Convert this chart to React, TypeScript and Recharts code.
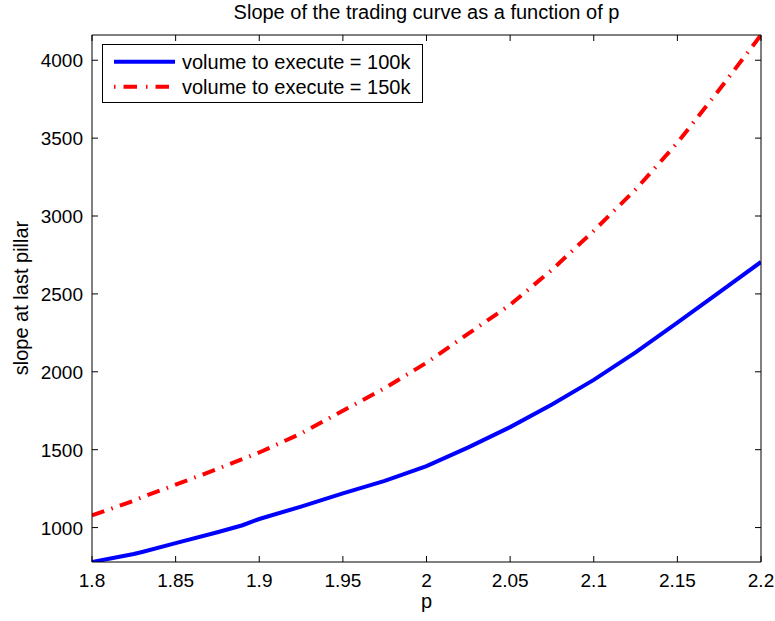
import React from 'react';
import { LineChart, Line, XAxis, YAxis, Legend, Label } from 'recharts';

const pValues = [1.8, 1.825, 1.83, 1.85, 1.875, 1.89, 1.9, 1.925, 1.95, 1.975, 2, 2.025, 2.05, 2.075, 2.1, 2.125, 2.15, 2.175, 2.2];
const slope100k = [779, 830, 843, 900, 970, 1015, 1055, 1135, 1220, 1300, 1395, 1515, 1645, 1790, 1948, 2125, 2315, 2510, 2705];
const slope150k = [1078, 1172, 1195, 1275, 1376, 1440, 1482, 1604, 1750, 1895, 2058, 2245, 2430, 2655, 2905, 3170, 3470, 3810, 4162];

const xTicks = [1.8, 1.85, 1.9, 1.95, 2, 2.05, 2.1, 2.15, 2.2];
const yTicks = [1000, 1500, 2000, 2500, 3000, 3500, 4000];
const seriesNames = ['volume to execute = 100k', 'volume to execute = 150k'];
const titleText = 'Slope of the trading curve as a function of p';
const xLabel = 'p';
const yLabel = 'slope at last pillar';

const data = pValues.map((p, i) => ({ p, v100: slope100k[i], v150: slope150k[i] }));

const FONT = '"Liberation Sans", Arial, Helvetica, sans-serif';
const TICK_FS = 19;
const TEXT_FS = 20;
const RED_DASH = '13 7.5 1.5 7.5';

const BottomTick = (props: any) => {
  const { x, y, payload } = props;
  return (
    <g>
      <line x1={x} x2={x} y1={y} y2={y - 6} stroke="#000" strokeWidth={1} />
      <text x={x} y={y + 25} textAnchor="middle" fontFamily={FONT} fontSize={TICK_FS} fill="#000">
        {String(payload.value)}
      </text>
    </g>
  );
};

const TopTick = (props: any) => {
  const { x, y } = props;
  return <line x1={x} x2={x} y1={y} y2={y + 6} stroke="#000" strokeWidth={1} />;
};

const LeftTick = (props: any) => {
  const { x, y, payload } = props;
  return (
    <g>
      <line x1={x} x2={x + 6} y1={y} y2={y} stroke="#000" strokeWidth={1} />
      <text x={x - 9} y={y + 7} textAnchor="end" fontFamily={FONT} fontSize={TICK_FS} fill="#000">
        {String(payload.value)}
      </text>
    </g>
  );
};

const RightTick = (props: any) => {
  const { x, y } = props;
  return <line x1={x} x2={x - 6} y1={y} y2={y} stroke="#000" strokeWidth={1} />;
};

const LegendBox = () => (
  <svg width={321} height={59} style={{ display: 'block' }}>
    <rect x={0.5} y={0.5} width={320} height={58} fill="#fff" stroke="#000" strokeWidth={1} />
    <line x1={12} x2={73} y1={17.7} y2={17.7} stroke="#0000ff" strokeWidth={4} />
    <text x={80} y={24.7} fontFamily={FONT} fontSize={TEXT_FS} fill="#000">{seriesNames[0]}</text>
    <line x1={12} x2={73} y1={42.7} y2={42.7} stroke="#ff0000" strokeWidth={4} strokeDasharray="1.5 8 13.5 9" />
    <text x={80} y={49.7} fontFamily={FONT} fontSize={TEXT_FS} fill="#000">{seriesNames[1]}</text>
  </svg>
);

export default function App() {
  return (
    <div style={{ position: 'absolute', left: 0, top: 0, width: 775, height: 621, background: '#fff' }}>
      <LineChart width={775} height={621} data={data} margin={{ top: 34, right: 13, bottom: 0, left: 0 }}>
        <XAxis
          xAxisId="bottom"
          dataKey="p"
          type="number"
          domain={[1.8, 2.2]}
          ticks={xTicks}
          interval={0}
          height={59}
          tickSize={0}
          tickMargin={0}
          tickLine={false}
          tick={BottomTick}
          axisLine={{ stroke: '#000', strokeWidth: 1 }}
          allowDataOverflow
        >
          <Label
            content={(p: any) => (
              <text x={426.5} y={608} textAnchor="middle" fontFamily={FONT} fontSize={TEXT_FS} fill="#000">
                {xLabel}
              </text>
            )}
          />
        </XAxis>
        <XAxis
          xAxisId="top"
          orientation="top"
          dataKey="p"
          type="number"
          domain={[1.8, 2.2]}
          ticks={xTicks}
          interval={0}
          height={1}
          tickSize={0}
          tickMargin={0}
          tickLine={false}
          tick={TopTick}
          axisLine={{ stroke: '#000', strokeWidth: 1 }}
          allowDataOverflow
        >
          <Label
            content={(p: any) => (
              <text x={426.5} y={19} textAnchor="middle" fontFamily={FONT} fontSize={TEXT_FS} fill="#000">
                {titleText}
              </text>
            )}
          />
        </XAxis>
        <YAxis
          yAxisId="left"
          type="number"
          domain={[779, 4162]}
          ticks={yTicks}
          interval={0}
          width={92}
          tickSize={0}
          tickMargin={0}
          tickLine={false}
          tick={LeftTick}
          axisLine={{ stroke: '#000', strokeWidth: 1 }}
          allowDataOverflow
        >
          <Label
            content={(p: any) => (
              <text
                x={28}
                y={298}
                transform="rotate(-90 28 298)"
                textAnchor="middle"
                fontFamily={FONT}
                fontSize={TEXT_FS}
                fill="#000"
              >
                {yLabel}
              </text>
            )}
          />
        </YAxis>
        <YAxis
          yAxisId="right"
          orientation="right"
          type="number"
          domain={[779, 4162]}
          ticks={yTicks}
          interval={0}
          width={1}
          tickSize={0}
          tickMargin={0}
          tickLine={false}
          tick={RightTick}
          axisLine={{ stroke: '#000', strokeWidth: 1 }}
          allowDataOverflow
        />
        <Legend
          layout="vertical"
          align="center"
          verticalAlign="middle"
          content={LegendBox}
          wrapperStyle={{ position: 'absolute', left: 102, top: 44, width: 321, height: 59 }}
        />
        <Line
          xAxisId="bottom"
          yAxisId="left"
          type="linear"
          dataKey="v100"
          name={seriesNames[0]}
          stroke="#0000ff"
          strokeWidth={4}
          dot={false}
          activeDot={false}
          isAnimationActive={false}
        />
        <Line
          xAxisId="bottom"
          yAxisId="left"
          type="linear"
          dataKey="v150"
          name={seriesNames[1]}
          stroke="#ff0000"
          strokeWidth={4}
          strokeDasharray={RED_DASH}
          dot={false}
          activeDot={false}
          isAnimationActive={false}
        />
      </LineChart>
    </div>
  );
}
